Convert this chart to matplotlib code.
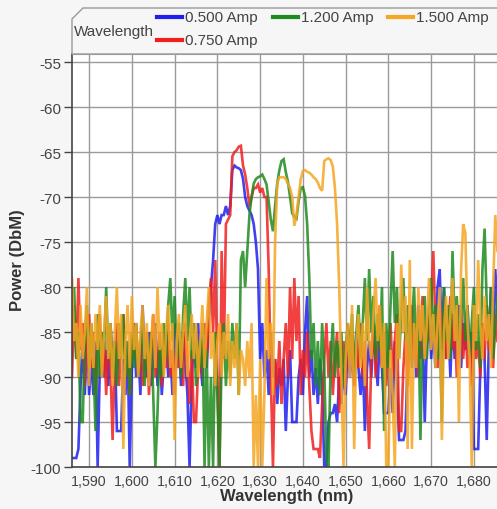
import numpy as np
import matplotlib
matplotlib.use("Agg")
import matplotlib.pyplot as plt
from matplotlib.lines import Line2D
from matplotlib.patches import Polygon
from matplotlib.ticker import FuncFormatter

plt.rcParams['font.family'] = ['Liberation Sans', 'DejaVu Sans']

# Wavelength grid (nm), 0.5 nm sampling, 1586.0 .. 1685.5
wl_start, wl_step, n_pts = 1586.0, 0.5, 200
wavelength = wl_start + wl_step * np.arange(n_pts)

series_names = ["0.500 Amp", "0.750 Amp", "1.200 Amp", "1.500 Amp"]
series_colors = ["#1f1fef", "#ef1f1f", "#1f8a1f", "#f5a623"]

# Power (dBm), each row = 5 nm (10 samples)
amp_0500 = [
    -99, -99, -99, -98, -91, -86, -92, -84, -92, -88,
    -92, -86, -100, -89, -85, -90, -87, -91, -84, -89,
    -86, -96, -96, -96, -88, -92, -86, -100, -89, -84,
    -90, -87, -92, -82, -88, -90, -85, -91, -88, -84,
    -91, -86, -92, -88, -85, -90, -87, -92, -84, -89,
    -86, -91, -85, -88, -92, -100, -90, -86, -89, -84,
    -88, -91, -85, -89, -84, -80, -77, -73, -72, -73,
    -72, -72, -71, -72, -71, -67, -66.5, -66.7, -66.8, -67,
    -68, -70, -71, -71.5, -72, -73, -75, -78, -88, -84,
    -90, -87, -92, -85, -90, -88, -93, -89, -91, -88,
    -96, -90, -87, -95, -95, -95, -90, -88, -92, -85,
    -81, -90, -87, -92, -89, -93, -88, -91, -100, -100,
    -95, -94, -94, -93, -95, -90, -93, -89, -92, -86,
    -90, -87, -91, -85, -89, -92, -88, -96, -89, -86,
    -90, -84, -88, -91, -85, -89, -94, -94, -94, -89,
    -94, -86, -90, -97, -97, -97, -96, -88, -84, -89,
    -85, -90, -82, -88, -84, -95, -86, -82, -88, -84,
    -89, -80, -78, -86, -80, -88, -84, -90, -83, -88,
    -85, -82, -89, -84, -87, -82, -88, -85, -98, -98,
    -98, -89, -84, -88, -97, -86, -80, -85, -78, -83,
]
amp_0750 = [
    -90, -82, -88, -79, -87, -84, -91, -86, -83, -89,
    -85, -92, -87, -83, -90, -86, -92, -85, -89, -97,
    -88, -84, -91, -86, -83, -89, -87, -92, -85, -88,
    -84, -90, -86, -91, -88, -85, -92, -87, -83, -90,
    -88, -85, -91, -86, -89, -84, -90, -87, -92, -85,
    -89, -86, -91, -84, -88, -93, -87, -95, -95, -89,
    -86, -90, -84, -88, -82, -79, -85, -77, -90, -100,
    -76, -88, -73, -72.5, -72, -65.5, -65, -64.8, -64.4, -64.3,
    -66.5, -67.5, -69, -71, -70, -69, -69, -68.6, -69.5, -69,
    -70, -70, -78, -90, -100, -88, -91, -86, -93, -88,
    -84, -90, -80, -88, -79, -86, -81, -92, -87, -90,
    -85, -91, -96, -98, -98, -98, -99, -93, -88, -84,
    -90, -86, -92, -88, -85, -94, -89, -86, -91, -84,
    -88, -85, -91, -86, -89, -84, -90, -86, -92, -98,
    -88, -84, -90, -86, -82, -89, -85, -91, -87, -84,
    -90, -86, -83, -96, -96, -89, -85, -91, -86, -82,
    -88, -84, -90, -85, -81, -88, -84, -86, -82, -76,
    -84, -89, -82, -87, -83, -88, -85, -81, -87, -84,
    -90, -86, -82, -88, -84, -89, -86, -91, -84, -88,
    -86, -90, -84, -88, -82, -87, -85, -89, -83, -86,
]
amp_1200 = [
    -84, -80, -88, -85, -95, -95, -86, -82, -89, -84,
    -88, -96, -83, -90, -85, -87, -80, -88, -84, -90,
    -86, -91, -84, -88, -83, -90, -86, -92, -85, -89,
    -84, -90, -87, -83, -91, -86, -88, -85, -92, -100,
    -94, -86, -90, -84, -88, -82, -79, -86, -81, -88,
    -84, -90, -83, -79, -86, -80, -88, -84, -91, -86,
    -89, -84, -100, -87, -100, -90, -100, -85, -92, -100,
    -88, -84, -91, -86, -90, -84, -88, -84, -92, -77,
    -76, -80, -76, -72, -70, -68.5, -68, -67.8, -67.7, -67.5,
    -68, -68.6, -70.5, -72.5, -73.8, -71, -68.5, -67, -66, -65.8,
    -67.2, -68.3, -70, -71.8, -72.2, -72.4, -70.5, -69, -68.9, -69.9,
    -73, -79, -88, -84, -91, -86, -92, -84, -89, -99,
    -100, -88, -84, -90, -86, -89, -85, -91, -87, -84,
    -88, -83, -90, -85, -82, -88, -84, -79, -86, -78,
    -85, -81, -88, -83, -87, -80, -96, -84, -89, -82,
    -76, -84, -80, -88, -83, -79, -86, -82, -88, -84,
    -80, -87, -83, -97, -85, -81, -88, -83, -79, -86,
    -82, -88, -84, -95, -80, -86, -82, -88, -76, -84,
    -81, -87, -83, -79, -86, -82, -88, -84, -80, -87,
    -83, -89, -78, -73.5, -82, -86, -80, -88, -84, -81,
]
amp_1500 = [
    -79, -86, -84, -90, -82, -88, -85, -80, -91, -84,
    -89, -83, -87, -82, -90, -85, -81, -88, -84, -91,
    -85, -80, -88, -83, -98, -86, -82, -89, -81, -87,
    -84, -90, -85, -82, -88, -84, -91, -86, -83, -89,
    -80, -87, -84, -90, -85, -82, -89, -84, -97, -86,
    -83, -89, -85, -82, -90, -86, -83, -88, -84, -90,
    -86, -82, -89, -84, -80, -88, -85, -91, -86, -84,
    -90, -85, -88, -83, -91, -86, -89, -84, -92, -87,
    -88, -91, -86, -90, -84, -100, -92, -100, -88, -100,
    -92, -79, -88, -84, -92, -75, -68.5, -67.8, -67.8, -67.8,
    -68, -68.5, -69, -70, -73.2, -72, -70, -68, -67.1, -67,
    -67.2, -67.3, -67.5, -67.8, -68, -68.4, -69, -69.3, -66, -65.8,
    -65.7, -65.9, -66.6, -69, -73, -80, -90, -100, -88, -84,
    -90, -82, -98, -86, -83, -89, -84, -91, -80, -86,
    -88, -83, -79, -86, -82, -89, -84, -100, -100, -87,
    -92, -100, -84, -88, -77.5, -85, -81, -98, -77, -98,
    -84, -89, -80, -86, -82, -88, -84, -79, -87, -83,
    -89, -84, -80, -97, -85, -81, -88, -83, -79, -86,
    -82, -95, -78, -73, -74, -84, -88, -100, -82, -86,
    -77, -84, -88, -81, -86, -83, -89, -80, -72, -76,
]
series_values = [amp_0500, amp_0750, amp_1200, amp_1500]

y_ticks = [-100, -95, -90, -85, -80, -75, -70, -65, -60, -55]
x_ticks = [1590, 1600, 1610, 1620, 1630, 1640, 1650, 1660, 1670, 1680]

W, H = 497, 510
fig = plt.figure(figsize=(W / 100, H / 100), dpi=100)
fig.patch.set_facecolor("#f6f6f6")

def fx(px):
    return px / W

def fy(py):
    return 1 - py / H

ax = fig.add_axes([fx(72), fy(468), fx(497) - fx(72) + 0.01, fy(55) - fy(468)])
ax.set_facecolor("white")

for vals, col in zip(series_values, series_colors):
    ax.plot(wavelength, vals, color=col, lw=1.9, alpha=0.85, solid_joinstyle="miter")

ax.set_xlim(1586.0, 1685.4 + (0.01 * W) / 4.27)
ax.set_ylim(-100, -54.1)
ax.set_yticks(y_ticks)
ax.set_xticks(x_ticks)
ax.xaxis.set_major_formatter(FuncFormatter(lambda v, p: f"{int(v):,}"))
ax.yaxis.set_major_formatter(FuncFormatter(lambda v, p: f"{int(v)}"))
ax.grid(True, color="#9a9a9a", lw=1.0)
ax.set_axisbelow(True)
ax.tick_params(axis="y", length=6, width=1, color="#444444", labelsize=11,
               labelcolor="#444444", pad=2)
ax.tick_params(axis="x", length=0, labelsize=10.3, labelcolor="#444444", pad=5)
for s in ["left", "bottom"]:
    ax.spines[s].set_color("#444444")
    ax.spines[s].set_linewidth(1.2)
ax.spines["top"].set_color("#9a9a9a")
ax.spines["right"].set_visible(False)

ax.set_xlabel("Wavelength (nm)", fontsize=12, fontweight="bold", color="#333333", labelpad=0)
fig.text(fx(18), fy(260), "Power (DbM)", rotation=90, fontsize=12, fontweight="bold",
         color="#333333", ha="center", va="center")

# Legend box with clipped corner
poly = Polygon([[fx(72), fy(55)], [fx(72), fy(20)], [fx(83), fy(9)],
                [fx(500), fy(9)], [fx(500), fy(55)]],
               closed=True, transform=fig.transFigure, facecolor="#f6f6f6",
               edgecolor="#9a9a9a", lw=1.0)
fig.patches.append(poly)
fig.text(fx(74), fy(32), "Wavelength", fontsize=11, color="#444444", ha="left", va="center")

legend_pos = [(157, 18), (157, 41), (273, 18), (388, 18)]
for (lx, ly), name, col in zip(legend_pos, series_names, series_colors):
    fig.lines.append(Line2D([fx(lx), fx(lx + 25)], [fy(ly), fy(ly)], transform=fig.transFigure,
                            color=col, lw=3))
    fig.text(fx(lx + 28), fy(ly), name, fontsize=11, color="#444444", ha="left", va="center")

fig.savefig("out.png", dpi=100, facecolor=fig.get_facecolor())
